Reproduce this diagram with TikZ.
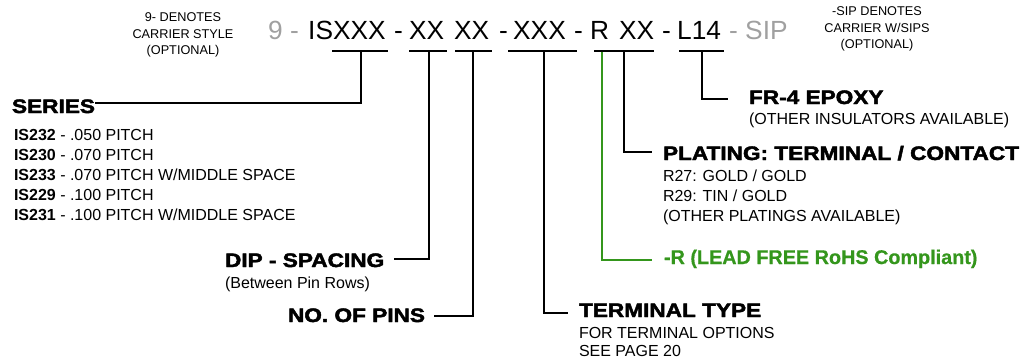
\documentclass[tikz,border=0pt]{standalone}
\usepackage{fontspec}
\usepackage{graphicx}
\setmainfont{Liberation Sans}
\newfontfamily\hdfont[FakeBold=2.2]{Liberation Sans Bold}
\newfontfamily\grfont[FakeBold=0.6]{Liberation Sans Bold}
\definecolor{leafgreen}{RGB}{52,150,28}
\definecolor{softgray}{RGB}{160,160,160}
\newcommand{\hdtext}[1]{{\hdfont\scalebox{1.16}[1]{#1}}}
\tikzset{
  lbl/.style={inner sep=0pt, outer sep=0pt, text height=11.5pt, text depth=0pt, font=\fontsize{16}{20}\selectfont},
  hd/.style={inner sep=0pt, outer sep=0pt, text height=14pt, text depth=0pt, font=\fontsize{19.5}{22}\selectfont},
  note/.style={inner sep=0pt, align=center, font=\fontsize{12.7}{16.5}\selectfont},
  pn/.style={inner sep=0pt, anchor=west, text height=19pt, text depth=0pt, font=\fontsize{26.3}{30}\selectfont},
  lead/.style={line width=1.3pt, black},
  uline/.style={line width=1.4pt, black},
}
\begin{document}
\begin{tikzpicture}[x=1pt,y=-1pt]
\useasboundingbox (0,0) rectangle (1029,364);
% notes
\node[note] (leftnote) at (183,35) {9- DENOTES\\CARRIER STYLE\\(OPTIONAL)};
\node[note] (rightnote) at (877,29) {-SIP DENOTES\\CARRIER W/SIPS\\(OPTIONAL)};
% part number
\node[pn, text=softgray] (p9) at (268,30) {9 -};
\node[pn] (pis) at (308,30) {ISXXX};
\node[pn] (d1) at (394,30) {-};
\node[pn] (pxa) at (409,30) {XX};
\node[pn] (pxb) at (454,30) {XX};
\node[pn] (d2) at (499,30) {-};
\node[pn] (pxc) at (513,30) {XXX};
\node[pn] (d3) at (574,30) {-};
\node[pn] (pr) at (590,30) {R};
\node[pn] (pxd) at (619,30) {XX};
\node[pn] (d4) at (662,30) {-};
\node[pn] (pl) at (677,30) {L14};
\node[pn, text=softgray] (psip) at (729,30) {- SIP};
% underlines
\coordinate (u1a) at (332,51); \coordinate (u1b) at (388,51);
\coordinate (u2a) at (409,51); \coordinate (u2b) at (447,51);
\coordinate (u3a) at (455,51); \coordinate (u3b) at (492,51);
\coordinate (u4a) at (508,51); \coordinate (u4b) at (577,51);
\coordinate (u5a) at (594,51); \coordinate (u5b) at (654,51);
\coordinate (u6a) at (679,51); \coordinate (u6b) at (724,51);
\foreach \i in {1,...,6} \draw[uline] (u\i a) -- (u\i b);
% drop points
\coordinate (t1) at (361,51);
\coordinate (t2) at (429,51);
\coordinate (t3) at (473,51);
\coordinate (t4) at (544,51);
\coordinate (t5) at (602,52);
\coordinate (t6) at (624,51);
\coordinate (t7) at (702,51);
% headings
\node[hd, anchor=west] (series) at (12,106) {\hdtext{SERIES}};
\node[lbl, anchor=west] (s1) at (14,135) {\textbf{IS232} - .050 PITCH};
\node[lbl, anchor=west] (s2) at (14,155) {\textbf{IS230} - .070 PITCH};
\node[lbl, anchor=west] (s3) at (14,175) {\textbf{IS233} - .070 PITCH W/MIDDLE SPACE};
\node[lbl, anchor=west] (s4) at (14,195) {\textbf{IS229} - .100 PITCH};
\node[lbl, anchor=west] (s5) at (14,215) {\textbf{IS231} - .100 PITCH W/MIDDLE SPACE};

\node[hd, anchor=west] (dip) at (225,260) {\hdtext{DIP - SPACING}};
\node[lbl, anchor=west] (dipsub) at (225,283) {(Between Pin Rows)};
\node[hd, anchor=east] (pins) at (425,315) {\hdtext{NO. OF PINS}};

\node[hd, anchor=west] (term) at (579,310) {\hdtext{TERMINAL TYPE}};
\node[lbl, anchor=west] (term1) at (579,333) {FOR TERMINAL OPTIONS};
\node[lbl, anchor=west] (term2) at (579,351) {SEE PAGE 20};

\node[hd, anchor=west, text=leafgreen] (rohs) at (664,257) {\grfont\fontsize{19.8}{22}\selectfont -R (LEAD FREE RoHS Compliant)};

\node[hd, anchor=west] (plat) at (663,153) {\hdtext{PLATING: TERMINAL / CONTACT}};
\node[lbl, anchor=west] (plat1) at (663,176) {R27: GOLD / GOLD};
\node[lbl, anchor=west] (plat2) at (663,196) {R29: TIN / GOLD};
\node[lbl, anchor=west] (plat3) at (663,216) {(OTHER PLATINGS AVAILABLE)};

\node[hd, anchor=west] (fr4) at (749,97) {\hdtext{FR-4 EPOXY}};
\node[lbl, anchor=west] (fr4sub) at (749,119) {(OTHER INSULATORS AVAILABLE)};
% leader ends
\coordinate (e1) at (95,103);
\coordinate (e2) at (394,259);
\coordinate (e3) at (434,316);
\coordinate (e4) at (568,313);
\coordinate (e5) at (652,260);
\coordinate (e6) at (652,152);
\coordinate (e7) at (728,99);
% leaders
\draw[lead] (t1) |- (e1);
\draw[lead] (t2) |- (e2);
\draw[lead] (t3) |- (e3);
\draw[lead] (t4) |- (e4);
\draw[lead, leafgreen] (t5) |- (e5);
\draw[lead] (t6) |- (e6);
\draw[lead] (t7) |- (e7);
\end{tikzpicture}
\end{document}
